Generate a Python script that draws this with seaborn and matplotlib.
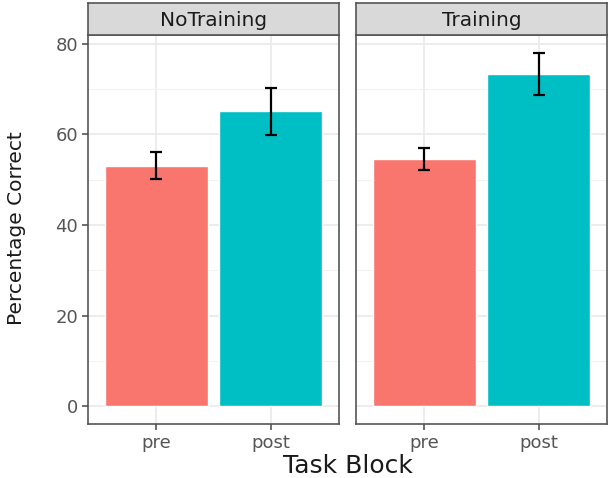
import matplotlib
matplotlib.use("Agg")
import matplotlib.pyplot as plt
import pandas as pd
import seaborn as sns

# values
groups = ["NoTraining", "Training"]
blocks = ["pre", "post"]
pct_correct = {"NoTraining": [52.9, 65.1], "Training": [54.5, 73.3]}
err_low = {"NoTraining": [50.1, 59.9], "Training": [52.1, 68.6]}
err_high = {"NoTraining": [56.0, 70.1], "Training": [56.9, 78.0]}
y_ticks = [0, 20, 40, 60, 80]
y_minor = [10, 30, 50, 70]

colors = {"pre": "#F8766D", "post": "#00BFC4"}

sns.set_theme(style="white")
plt.rcParams['font.family'] = ['DejaVu Sans']

fig = plt.figure(figsize=(6.1, 4.78), dpi=100)

panel_x = [(88, 339), (356, 607)]
W, H = 610, 478
y_bot, y_top, strip_top = 424, 35, 3

for i, grp in enumerate(groups):
    x0, x1 = panel_x[i]
    ax = fig.add_axes([x0 / W, 1 - y_bot / H, (x1 - x0) / W, (y_bot - y_top) / H])
    df = pd.DataFrame({"block": blocks, "pct": pct_correct[grp]})
    df["block"] = pd.Categorical(df["block"], categories=blocks)
    sns.barplot(data=df, x="block", y="pct", hue="block", palette=colors,
                width=0.9, legend=False, ax=ax, errorbar=None, saturation=1,
                zorder=3)
    lo = [m - l for m, l in zip(pct_correct[grp], err_low[grp])]
    hi = [h - m for m, h in zip(pct_correct[grp], err_high[grp])]
    ax.errorbar([0, 1], pct_correct[grp], yerr=[lo, hi], fmt="none",
                ecolor="black", elinewidth=1.6, capsize=4.5, capthick=1.6, zorder=4)

    ax.set_xlim(-0.6, 1.6)
    ax.set_ylim(-3.9, 81.9)
    ax.set_yticks(y_ticks)
    ax.set_yticks(y_minor, minor=True)
    ax.grid(True, which="major", color="#EBEBEB", linewidth=1.3, zorder=0)
    ax.grid(True, which="minor", axis="y", color="#F2F2F2", linewidth=0.8, zorder=0)
    ax.set_axisbelow(True)
    for s in ax.spines.values():
        s.set_color("#555555")
        s.set_linewidth(1.2)
    ax.tick_params(axis="both", which="major", direction="out", length=4,
                   width=1.2, color="#555555", labelcolor="#555555",
                   labelsize=13, pad=3, bottom=True, left=(i == 0))
    ax.tick_params(axis="y", which="minor", length=0)
    ax.set_xlabel("")
    ax.set_ylabel("")
    if i > 0:
        ax.set_yticklabels([])

    sax = fig.add_axes([x0 / W, 1 - y_top / H, (x1 - x0) / W, (y_top - strip_top) / H])
    sax.set_facecolor("#D9D9D9")
    sax.set_xticks([])
    sax.set_yticks([])
    for s in sax.spines.values():
        s.set_color("#555555")
        s.set_linewidth(1.2)
    sax.text(0.5, 0.45, grp, ha="center", va="center", fontsize=14.5,
             color="#1A1A1A", transform=sax.transAxes)

fig.text(348 / W, 1 - 466 / H, "Task Block", ha="center", va="center", fontsize=18,
         color="#1A1A1A")
fig.text(17 / W, 1 - 228 / H, "Percentage Correct", ha="center", va="center",
         rotation=90, fontsize=14.5, color="#1A1A1A")

fig.savefig("out.png", dpi=100)
